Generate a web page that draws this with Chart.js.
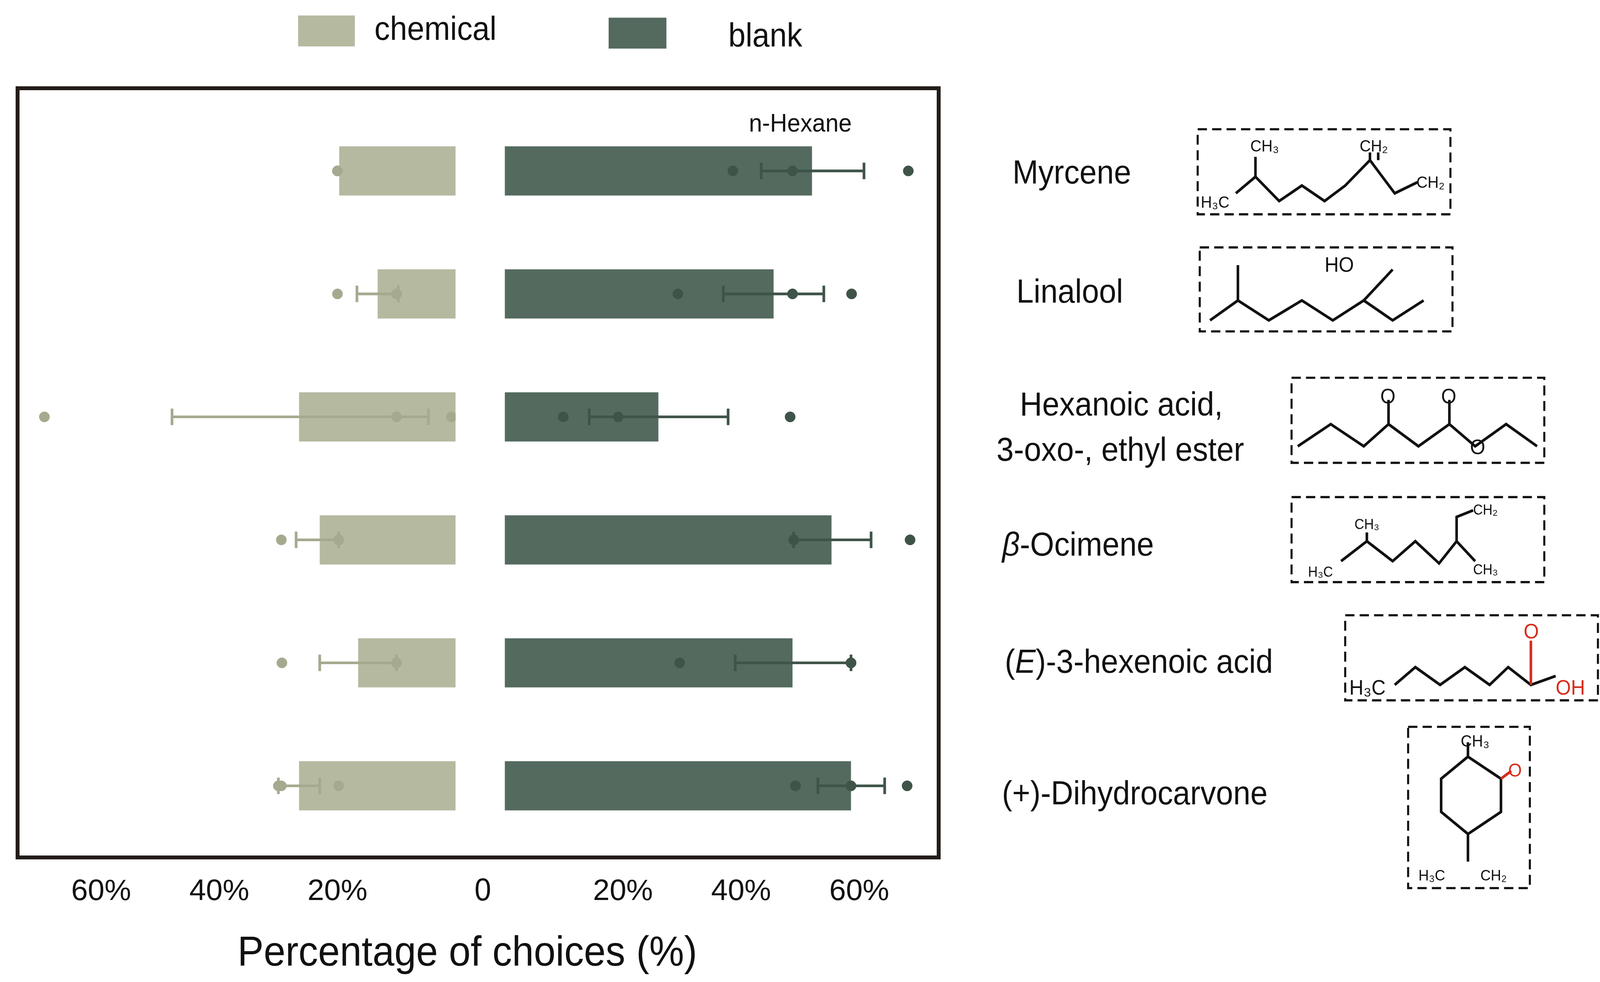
<!DOCTYPE html>
<html>
<head>
<meta charset="utf-8">
<script src="https://cdn.jsdelivr.net/npm/chart.js@4"></script>
<style>
  html, body { margin: 0; padding: 0; background: #fff; width: 100vw; height: 100vh; position: relative; overflow: hidden; font-family: "Liberation Sans", Arial, sans-serif; }
  .c { position: absolute; }
  #frame { position: absolute; border-style: solid; border-color: #231c18; box-sizing: border-box; z-index: 3; }
  svg { position: absolute; left: 0; top: 0; z-index: 4; width: 100vw; height: 100vh; }
</style>
</head>
<body>
<div id="frame"></div>
<div class="c" id="wl"><canvas id="left"></canvas></div>
<div class="c" id="wr"><canvas id="right"></canvas></div>
<svg id="ov" viewBox="0 0 1551 889" preserveAspectRatio="none"
     font-family="Liberation Sans, Arial, sans-serif" fill="#111">
  <rect x="289" y="14" width="55" height="28" fill="#b4b9a0"/>
  <text x="363" y="36" font-size="30">chemical</text>
  <rect x="590" y="16" width="56" height="28" fill="#546a5f"/>
  <text x="706" y="42" font-size="30">blank</text>
  <text x="726" y="119" font-size="23">n-Hexane</text>
  <text x="468" y="815" font-size="29" text-anchor="middle">0</text>
  <text x="453" y="874" font-size="38" text-anchor="middle">Percentage of choices (%)</text>
  <g font-size="30" text-anchor="middle">
    <text x="1039" y="166">Myrcene</text>
    <text x="1037" y="274">Linalool</text>
    <text x="1087" y="376">Hexanoic acid,</text>
    <text x="1086" y="417">3-oxo-, ethyl ester</text>
    <text x="1045" y="503"><tspan font-style="italic">β</tspan>-Ocimene</text>
    <text x="1104" y="609">(<tspan font-style="italic">E</tspan>)-3-hexenoic acid</text>
    <text x="1100" y="728">(+)-Dihydrocarvone</text>
  </g>
  <g fill="none" stroke="#111" stroke-width="2" stroke-dasharray="9,5">
    <rect x="1161" y="117" width="245" height="77"/>
    <rect x="1163" y="224" width="245" height="76"/>
    <rect x="1252" y="342" width="245" height="77"/>
    <rect x="1252" y="450" width="245" height="77"/>
    <rect x="1304" y="557" width="245" height="77"/>
    <rect x="1365" y="658" width="118" height="146"/>
  </g>
  <g fill="none" stroke="#111" stroke-width="2.5">
    <polyline points="1198,175 1217,160 1240,182 1262,168 1284,182 1304,168 1328,145 1352,175 1374,165"/>
    <line x1="1217" y1="160" x2="1217" y2="142"/><line x1="1328" y1="145" x2="1328" y2="138"/>
    <line x1="1336" y1="145" x2="1336" y2="138"/>
    <polyline points="1173,290 1200,272 1230,290 1262,272 1292,290 1322,272 1350,290 1380,272"/>
    <line x1="1200" y1="272" x2="1200" y2="240"/><line x1="1322" y1="272" x2="1350" y2="244"/>
    <polyline points="1258,404 1290,384 1322,404 1346,384 1375,404 1405,384 1430,404 1460,384 1490,404"/>
    <line x1="1346" y1="384" x2="1346" y2="362"/><line x1="1405" y1="384" x2="1405" y2="362"/>
    <polyline points="1300,508 1325,490 1350,508 1372,490 1395,510 1412,490 1412,468 1428,462"/>
    <line x1="1325" y1="490" x2="1325" y2="482"/><line x1="1412" y1="490" x2="1430" y2="508"/>
    <polyline points="1352,620 1372,604 1396,620 1420,604 1444,620 1462,604 1484,620 1508,612"/>
    <line x1="1484" y1="620" x2="1484" y2="580" stroke="#d62d1b"/>
    <polygon points="1423,685 1455,705 1455,735 1423,755 1397,735 1397,705"/>
    <line x1="1423" y1="685" x2="1423" y2="672"/><line x1="1423" y1="755" x2="1423" y2="780"/>
    <line x1="1455" y1="705" x2="1465" y2="698" stroke="#d62d1b"/>
  </g>
  <g font-size="15" fill="#111">
    <text x="1212" y="137">CH₃</text><text x="1318" y="137">CH₂</text>
    <text x="1164" y="188">H₃C</text><text x="1373" y="170">CH₂</text>
    <text x="1284" y="246" font-size="19">HO</text>
    <text x="1338" y="365" font-size="19">O</text><text x="1397" y="365" font-size="19">O</text>
    <text x="1425" y="411" font-size="19">O</text>
    <text x="1313" y="479" font-size="13">CH₃</text><text x="1428" y="466" font-size="13">CH₂</text>
    <text x="1268" y="522" font-size="13">H₃C</text><text x="1428" y="520" font-size="13">CH₃</text>
    <text x="1308" y="629" font-size="19">H₃C</text>
    <text x="1477" y="578" font-size="19" fill="#d62d1b">O</text>
    <text x="1508" y="629" font-size="19" fill="#d62d1b">OH</text>
    <text x="1416" y="676">CH₃</text><text x="1462" y="703" font-size="17" fill="#d62d1b">O</text>
    <text x="1375" y="797" font-size="14">H₃C</text><text x="1435" y="797" font-size="14">CH₂</text>
  </g>
</svg>
<script>
var categories = ['Myrcene', 'Linalool', 'Hexanoic acid 3-oxo- ethyl ester', 'beta-Ocimene', '(E)-3-hexenoic acid', '(+)-Dihydrocarvone'];
var chemMean = [19.7, 13.2, 26.5, 23.0, 16.5, 26.5];
var chemErrLo = [19.7, 9.7, 4.6, 19.8, 10.0, 23.0];
var chemErrHi = [19.7, 16.7, 48.0, 27.0, 23.0, 30.0];
var chemPoints = [[20, 20, 20], [20, 10, 10], [69.6, 10, 0.7], [29.5, 19.8, 19.8], [29.4, 10, 10], [30, 29.5, 19.8]];
var blankMean = [52.0, 45.5, 26.0, 55.3, 48.7, 58.6];
var blankErrLo = [43.4, 37.0, 14.3, 48.9, 39.0, 53.0];
var blankErrHi = [60.8, 54.0, 37.8, 62.0, 58.6, 64.3];
var blankPoints = [[68.3, 38.6, 48.7], [29.3, 48.7, 58.7], [9.9, 19.2, 48.3], [68.6, 48.9, 48.9], [29.6, 58.6, 58.6], [49.2, 58.6, 68.1]];
var tickValues = [20, 40, 60];

var k = window.innerWidth / 1551;
var ky = window.innerHeight / 889;
function place(id, x, y, w, h) {
  var e = document.getElementById(id);
  e.style.left = x * k + 'px'; e.style.top = y * ky + 'px';
  e.style.width = w * k + 'px'; e.style.height = h * ky + 'px';
}
place('frame', 15, 78, 897, 700);
document.getElementById('frame').style.borderWidth = 4 * k + 'px';
place('wl', 17, 83, 430, 747);
place('wr', 484, 83, 426, 747);

var errPlugin = {
  id: 'err',
  afterDatasetsDraw: function (chart, args, opts) {
    var c = chart.ctx, xs = chart.scales.x, ys = chart.scales.y;
    c.save();
    c.strokeStyle = opts.color; c.lineWidth = 2.6 * k;
    opts.lo.forEach(function (lo, i) {
      var y = ys.getPixelForValue(i), a = xs.getPixelForValue(lo), b = xs.getPixelForValue(opts.hi[i]);
      if (Math.abs(a - b) < 1) return;
      var h = 8 * k;
      c.beginPath();
      c.moveTo(a, y); c.lineTo(b, y);
      c.moveTo(a, y - h); c.lineTo(a, y + h);
      c.moveTo(b, y - h); c.lineTo(b, y + h);
      c.stroke();
    });
    c.restore();
  }
};

function makeChart(id, mean, lo, hi, pts, barColor, ptColor, reverse, max) {
  var scatter = [];
  pts.forEach(function (row, i) { row.forEach(function (v) { scatter.push({ x: v, y: categories[i] }); }); });
  return new Chart(document.getElementById(id), {
    type: 'bar',
    data: {
      labels: categories,
      datasets: [{
        type: 'scatter', data: scatter, backgroundColor: ptColor, borderColor: ptColor,
        pointRadius: 5 * k, order: 0
      }, {
        data: mean, backgroundColor: barColor, barPercentage: 0.4, categoryPercentage: 1, order: 1
      }]
    },
    options: {
      indexAxis: 'y', responsive: true, maintainAspectRatio: false, animation: false,
      layout: { padding: { top: 16 * ky, left: 0, right: 0, bottom: 0 } },
      plugins: { legend: { display: false }, tooltip: { enabled: false },
        err: { lo: lo, hi: hi, color: ptColor } },
      scales: {
        y: { type: 'category', display: false },
        x: {
          type: 'linear', min: 0, max: max, reverse: reverse,
          grid: { display: false, drawTicks: false }, border: { display: false },
          afterFit: function (s) { s.height = 63 * ky; },
          afterBuildTicks: function (s) { s.ticks = tickValues.map(function (v) { return { value: v }; }); },
          ticks: {
            padding: 24 * ky, color: '#111',
            font: { family: 'Liberation Sans', size: 29 * k },
            callback: function (v) { return v + '%'; }
          }
        }
      }
    },
    plugins: [errPlugin]
  });
}

makeChart('left', chemMean, chemErrLo, chemErrHi, chemPoints, '#b4b9a0', '#a5aa8f', true, 73.2);
makeChart('right', blankMean, blankErrLo, blankErrHi, blankPoints, '#546a5f', '#3f5449', false, 72.5);
</script>
</body>
</html>
